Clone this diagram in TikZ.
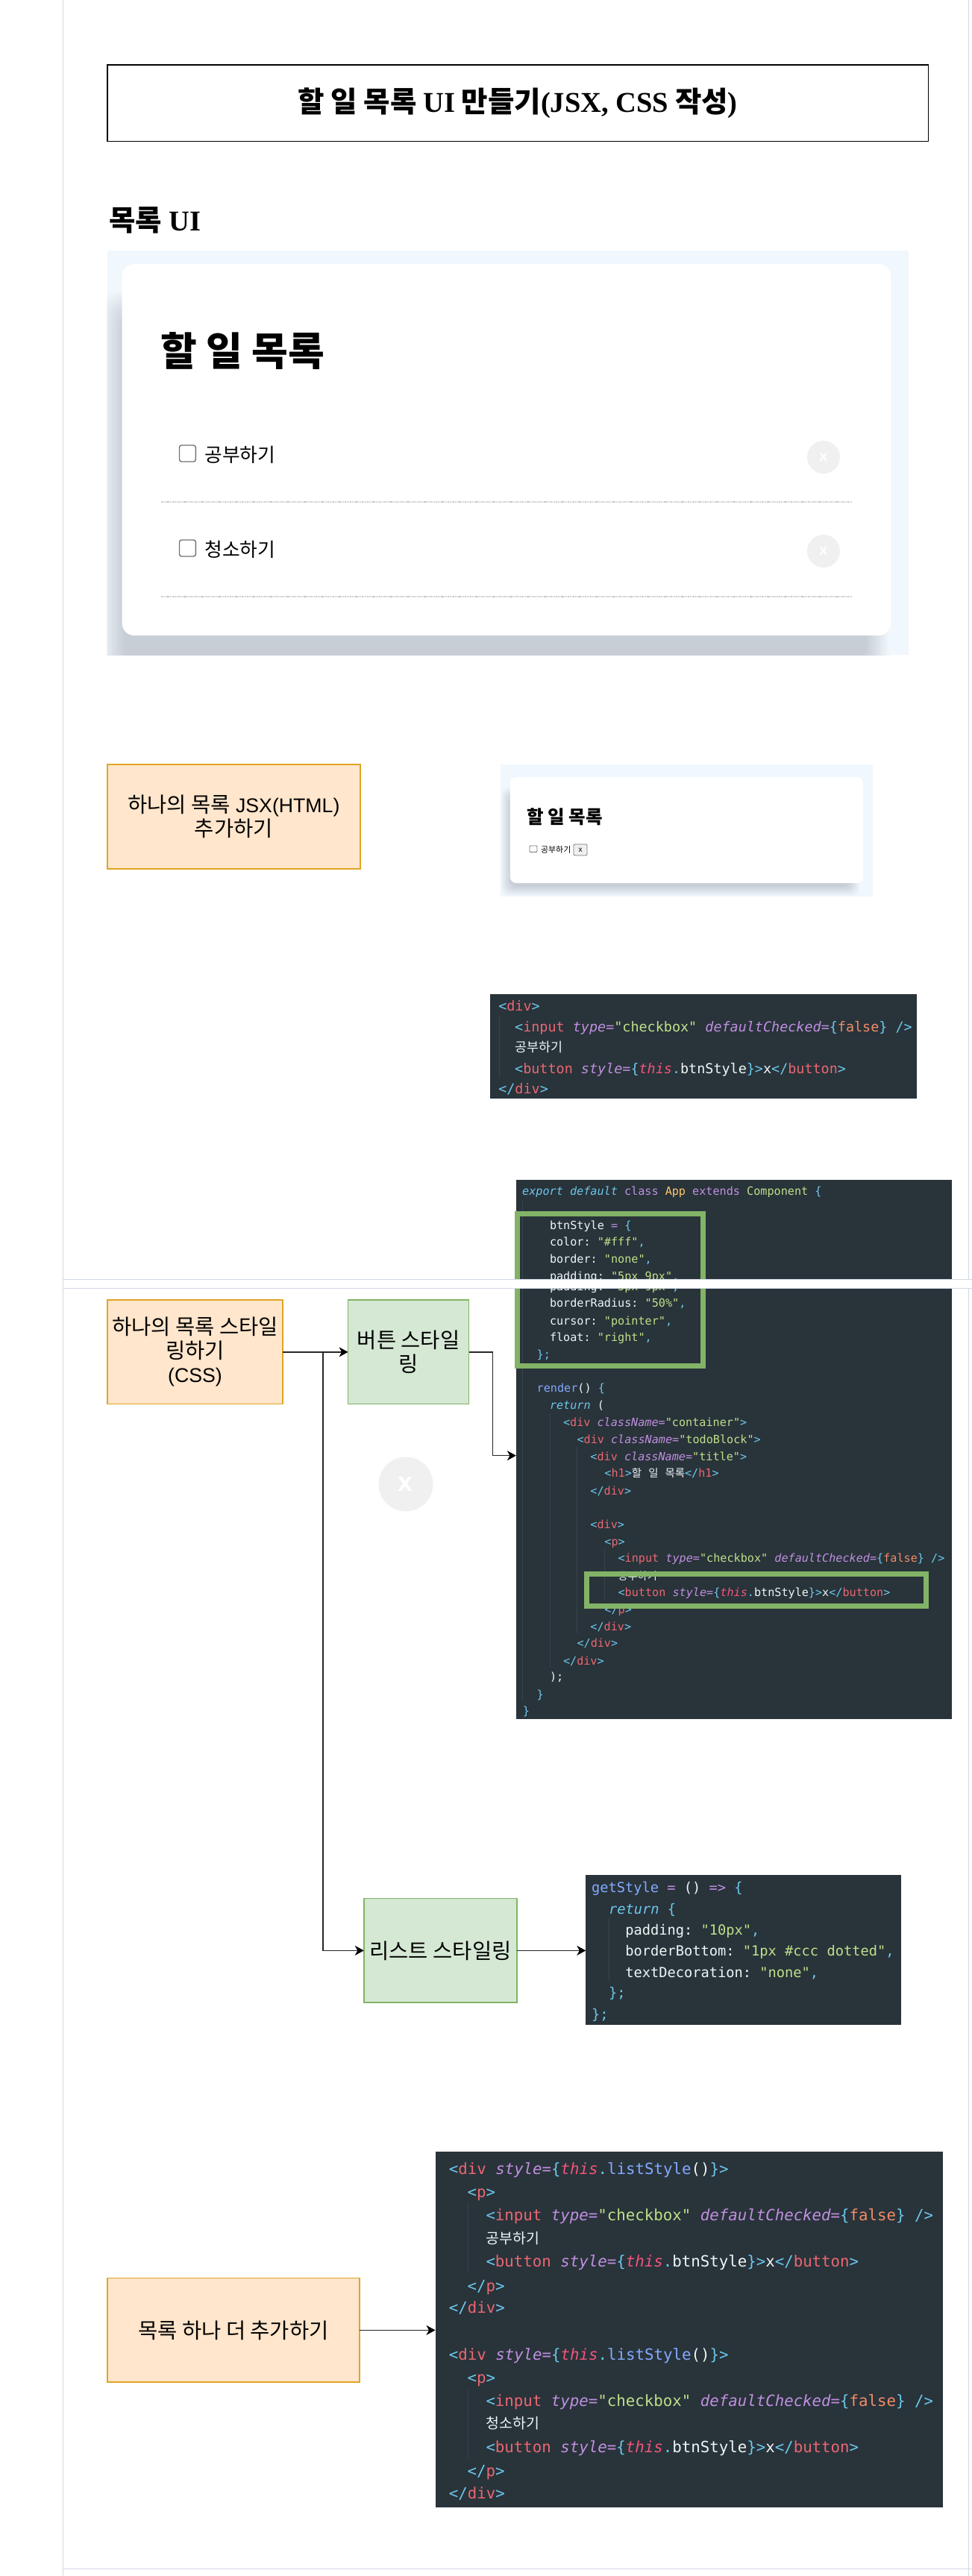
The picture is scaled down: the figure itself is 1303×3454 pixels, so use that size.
\documentclass[tikz,border=0pt]{standalone}
\usepackage{fontspec}
\usetikzlibrary{arrows.meta}
\setmainfont{Liberation Sans}
\setmonofont{DejaVu Sans Mono}
\newfontfamily\serf{Liberation Serif}
\newfontfamily\kr{Noto Sans CJK KR}
\definecolor{cPage}{HTML}{D2D8E4}
\definecolor{cPanel}{HTML}{F0F7FD}
\definecolor{cShad}{HTML}{C8CED5}
\definecolor{cCode}{HTML}{29333A}
\definecolor{cGuide}{HTML}{37444D}
\definecolor{cOrF}{HTML}{FFE6CC}
\definecolor{cOrD}{HTML}{E0A524}
\definecolor{cGrF}{HTML}{D5E8D4}
\definecolor{cGrD}{HTML}{82B366}
\definecolor{cCy}{HTML}{6CC8EC}
\definecolor{cTag}{HTML}{EB6772}
\definecolor{cPur}{HTML}{C08FE0}
\definecolor{cStr}{HTML}{C0E088}
\definecolor{cThis}{HTML}{F2557A}
\definecolor{cFal}{HTML}{F08D68}
\definecolor{cWh}{HTML}{EEF6F6}
\definecolor{cBlu}{HTML}{82AAFF}
\definecolor{cYel}{HTML}{FFCB6B}
\newcommand\Pc[1]{\textcolor{cCy}{#1}}
\newcommand\Tg[1]{\textcolor{cTag}{#1}}
\newcommand\At[1]{\textcolor{cPur}{\itshape #1}}
\newcommand\Pu[1]{\textcolor{cPur}{#1}}
\newcommand\St[1]{\textcolor{cStr}{#1}}
\newcommand\Wh[1]{\textcolor{cWh}{#1}}
\newcommand\Th[1]{\textcolor{cThis}{\itshape #1}}
\newcommand\Fa[1]{\textcolor{cFal}{#1}}
\newcommand\Bl[1]{\textcolor{cBlu}{#1}}
\newcommand\Iy[1]{\textcolor{cCy}{\itshape #1}}
\newcommand\Ye[1]{\textcolor{cYel}{#1}}
\newcommand\opn[1]{\Pc{<}\Tg{#1}\Pc{>}}
\newcommand\cls[1]{\Pc{</}\Tg{#1}\Pc{>}}
\newcommand\inpl{\Pc{<}\Tg{input} \At{type}\Pu{=}\St{"checkbox"} \At{defaultChecked}\Pu{=}\Pc{\{}\Fa{false}\Pc{\}} \Pc{/>}}
\newcommand\btnl{\Pc{<}\Tg{button} \At{style}\Pu{=}\Pc{\{}\Th{this}\Pc{.}\Wh{btnStyle}\Pc{\}>}\Wh{x}\Pc{</}\Tg{button}\Pc{>}}
\newcommand\divl{\Pc{<}\Tg{div} \At{style}\Pu{=}\Pc{\{}\Th{this}\Pc{.}\Bl{listStyle}\Wh{()}\Pc{\}>}}
\newcommand\prop[2]{\Wh{#1:} \St{"#2"}\Pc{,}}
\newcommand\kk[2]{{\kr\fontsize{#1}{#1}\selectfont #2}}
\newcommand\K[1]{{\kr\fontsize{28.5}{32}\selectfont #1}}
\newcounter{cln}
\newcommand\cl[4]{\stepcounter{cln}\node[codeline,#1] (cl\arabic{cln}) at (#2,#3) {#4};}
\newcommand\bx[7]{\pgfmathsetmacro\tmpx{(#2+#4)/2}\pgfmathsetmacro\tmpy{(#3+#5)/2}\pgfmathsetmacro\tmpw{#4-#2}\pgfmathsetmacro\tmph{#5-#3}\node[#6,minimum width=\tmpw pt,minimum height=\tmph pt] (#1) at (\tmpx,\tmpy) {#7};}
\newcommand\softshadow[6]{%
  \foreach \i in {0,...,20}{\pgfmathtruncatemacro\pc{\i*5}\pgfmathsetmacro\dd{(\i-10)*#5/10}
    \fill[cShad!\pc!cPanel,rounded corners=#6pt] ({#1+\dd},{#2+\dd}) rectangle ({#3-\dd},{#4-\dd});}}
\tikzset{
  base/.style={inner sep=0pt,outer sep=0pt},
  codeline/.style={base,anchor=mid west,text=cWh},
  codeA/.style={font=\ttfamily\fontsize{18.43}{20}\selectfont,yshift=-5.5pt},
  codeB/.style={font=\ttfamily\fontsize{15.15}{17}\selectfont,yshift=-4.5pt},
  codeC/.style={font=\ttfamily\fontsize{18.7}{20}\selectfont,yshift=-5.5pt},
  codeD/.style={font=\ttfamily\fontsize{20.75}{22}\selectfont,yshift=-6pt},
  codebox/.style={base,fill=cCode},
  guide/.style={cGuide,line width=1pt},
  frameg/.style={base,draw=cGrD,line width=7pt},
  orangebox/.style={base,fill=cOrF,draw=cOrD,line width=1.5pt,align=center,font=\fontsize{26.67}{32}\selectfont},
  greenbox/.style={base,fill=cGrF,draw=cGrD,line width=1.5pt,align=center,font=\fontsize{26.67}{32}\selectfont},
  arrowc/.style={draw=black!85,line width=1.4pt,-{Stealth[length=12pt,width=13pt,inset=3.5pt,color=black]}},
  pagel/.style={cPage,line width=1pt},
  card/.style={base,fill=white,rounded corners=#1},
  chk/.style={base,draw=black!55,line width=1.4pt,fill=white,rounded corners=3pt},
  delbtn/.style={base,circle,fill=black!6,text=white,font=\bfseries\fontsize{20}{20}\selectfont},
  dotl/.style={black!22,line width=1.3pt,dash pattern=on 1.4pt off 0.9pt},
}
\begin{document}
\begin{tikzpicture}[x=1pt,y=-1pt]
\useasboundingbox (0,0) rectangle (1303,3454);
\fill[white] (0,0) rectangle (1303,3454);
% page guides
\draw[pagel] (84.6,0) -- (84.6,3454);
\draw[pagel] (1298.5,0) -- (1298.5,3454);
\draw[pagel] (84.6,3444) -- (1303,3444);
% title
\bx{title}{143.8}{87}{1244.2}{189.5}{base,draw=black,line width=1.4pt,font=\serf\bfseries\fontsize{38.5}{44}\selectfont}{\kr\fontsize{38.5}{44}\selectfont 할 일 목록 {\serf UI} 만들기{\serf (JSX, CSS} 작성{\serf )}}
\node[base,anchor=mid west,font=\serf\bfseries\fontsize{38.5}{44}\selectfont] (heading) at (146,307) {{\kr 목록} UI};
% big panel
\bx{panelA}{143.8}{336}{1217.8}{878}{base,fill=cPanel}{}
\begin{scope}
\clip (143.8,336) rectangle (1217.8,878);
\softshadow{149.7}{405}{1177}{905}{16}{24}
\end{scope}
\bx{cardA}{163.7}{354}{1194.3}{852}{card=16pt}{}
\node[base,anchor=mid west,font=\kr\bfseries\fontsize{53}{56}\selectfont] (cardAtitle) at (215.6,488) {할 일 목록};
\bx{chk1}{240.5}{597}{262.4}{619}{chk}{}
\node[base,anchor=mid west,font=\kr\fontsize{25.8}{28}\selectfont] (item1) at (274.4,616.5) {공부하기};
\node[delbtn,minimum size=44pt] (del1) at (1104,613) {x};
\coordinate (d1a) at (216.2,673); \coordinate (d1b) at (1143,673);
\draw[dotl] (d1a) -- (d1b);
\bx{chk2}{240.5}{724}{262.4}{746}{chk}{}
\node[base,anchor=mid west,font=\kr\fontsize{25.8}{28}\selectfont] (item2) at (274.4,743.5) {청소하기};
\node[delbtn,minimum size=44pt] (del2) at (1104,739) {x};
\coordinate (d2a) at (216.2,800); \coordinate (d2b) at (1143,800);
\draw[dotl] (d2a) -- (d2b);
% orange 1
\bx{box1}{143.8}{1025}{482.8}{1165}{orangebox}{\K{하나의 목록} JSX(HTML)\\\K{추가하기}}
% small panel
\bx{panelB}{671.3}{1025}{1170}{1202}{base,fill=cPanel}{}
\begin{scope}
\clip (671.3,1025) rectangle (1170,1202);
\softshadow{678}{1062}{1146}{1195}{7}{10}
\end{scope}
\bx{cardB}{683.9}{1042}{1157}{1184}{card=8pt}{}
\node[base,anchor=mid west,font=\kr\bfseries\fontsize{24.5}{28}\selectfont] (cardBtitle) at (706.2,1102) {할 일 목록};
\bx{chk3}{710}{1134}{720}{1142.5}{chk,line width=0.8pt,rounded corners=1pt}{}
\node[base,anchor=mid west,font=\kr\fontsize{11}{12}\selectfont] (item3) at (725,1141) {공부하기};
\bx{btn3}{769}{1132}{787}{1147}{base,draw=black!55,fill=black!6,line width=0.8pt,rounded corners=1.5pt,font=\fontsize{10}{10}\selectfont}{x}
% code 1
\bx{code1}{657}{1332.6}{1229}{1473}{codebox}{}
\draw[guide] (669.3,1362) -- (669.3,1444);
\cl{codeA}{668.3}{1347}{\opn{div}}
\cl{codeA}{690.2}{1375}{\inpl}
\cl{codeA}{690.2}{1402.5}{\kk{17.4}{공부하기}}
\cl{codeA}{690.2}{1431}{\btnl}
\cl{codeA}{668.3}{1458}{\cls{div}}
% code 2
\bx{code2}{691.9}{1582}{1276.3}{2305}{codebox}{}
\draw[guide] (700.8,1610) -- (700.8,2280);
\draw[guide] (737,1895) -- (737,2236);
\draw[guide] (773.5,1940) -- (773.5,2190);
\draw[guide] (810.4,2076) -- (810.4,2146);
\cl{codeB}{700.2}{1595.7}{\Iy{export default} \Pu{class} \Ye{App} \Pu{extends} \St{Component} \Pc{\{}}
\cl{codeB}{737}{1641}{\Wh{btnStyle} \Pu{=} \Pc{\{}}
\cl{codeB}{737}{1663.3}{\prop{color}{\#fff}}
\cl{codeB}{737}{1686.7}{\prop{border}{none}}
\cl{codeB}{737}{1709.3}{\prop{padding}{5px 9px}}
\cl{codeB}{737}{1723}{\prop{padding}{5px 9px}}
\cl{codeB}{737}{1745.7}{\prop{borderRadius}{50\%}}
\cl{codeB}{737}{1769}{\prop{cursor}{pointer}}
\cl{codeB}{737}{1791}{\prop{float}{right}}
\cl{codeB}{719.7}{1814.3}{\Pc{\};}}
\cl{codeB}{719.7}{1859.7}{\Bl{render}\Wh{()} \Pc{\{}}
\cl{codeB}{737}{1882.7}{\Iy{return} \Wh{(}}
\cl{codeB}{755}{1905.3}{\Pc{<}\Tg{div} \At{className}\Pu{=}\St{"container"}\Pc{>}}
\cl{codeB}{773.5}{1928.3}{\Pc{<}\Tg{div} \At{className}\Pu{=}\St{"todoBlock"}\Pc{>}}
\cl{codeB}{791.4}{1951.3}{\Pc{<}\Tg{div} \At{className}\Pu{=}\St{"title"}\Pc{>}}
\cl{codeB}{810.4}{1973.7}{\opn{h1}\kk{14.4}{할} \kk{14.4}{일} \kk{14.4}{목록}\cls{h1}}
\cl{codeB}{791.4}{1997}{\cls{div}}
\cl{codeB}{791.4}{2042.3}{\opn{div}}
\cl{codeB}{810.4}{2065.7}{\opn{p}}
\cl{codeB}{828.6}{2087.7}{\inpl}
\cl{codeB}{828.6}{2111.7}{\kk{14.2}{공부하기}}
\cl{codeB}{828.6}{2133}{\btnl}
\cl{codeB}{810.4}{2156.7}{\cls{p}}
\cl{codeB}{791.4}{2179.3}{\cls{div}}
\cl{codeB}{773.5}{2201.7}{\cls{div}}
\cl{codeB}{755}{2225}{\cls{div}}
\cl{codeB}{737}{2246.7}{\Wh{);}}
\cl{codeB}{719.7}{2270}{\Pc{\}}}
\cl{codeB}{700.8}{2292.7}{\Pc{\}}}
\bx{frameA}{693.2}{1627}{942}{1831.3}{frameg}{}
\bx{frameB}{786.5}{2110}{1241.2}{2153.7}{frameg}{}
% page break band
\fill[white] (84.6,1715) rectangle (1303,1727.5);
\draw[pagel] (84.6,1715.3) -- (1303,1715.3);
\draw[pagel] (84.6,1727.5) -- (1303,1727.5);
% boxes row 2
\bx{box2}{144}{1743}{379}{1882.7}{orangebox}{\K{하나의 목록 스타일}\\\K{링하기}\\(CSS)}
\bx{btnbox}{466.6}{1743}{628.7}{1882.7}{greenbox}{\K{버튼 스타일}\\\K{링}}
\node[delbtn,minimum size=73pt,font=\bfseries\fontsize{36}{36}\selectfont] (delbig) at (544,1990) {x};
\bx{listbox}{487.8}{2545.7}{693.2}{2685}{greenbox}{\K{리스트 스타일링}}
% code 3
\bx{code3}{785.3}{2514.3}{1207.8}{2715}{codebox}{}
\draw[guide] (816,2572) -- (816,2656);
\cl{codeC}{793}{2529.3}{\Bl{getStyle} \Pu{=} \Wh{()} \Pu{=>} \Pc{\{}}
\cl{codeC}{816}{2558.3}{\Iy{return} \Pc{\{}}
\cl{codeC}{838.3}{2586}{\prop{padding}{10px}}
\cl{codeC}{838.3}{2614.3}{\prop{borderBottom}{1px \#ccc dotted}}
\cl{codeC}{838.3}{2643.3}{\prop{textDecoration}{none}}
\cl{codeC}{816}{2670.7}{\Pc{\};}}
\cl{codeC}{793}{2699.3}{\Pc{\};}}
% box 3 and code 4
\bx{box3}{144}{3054.7}{482}{3194}{orangebox}{\K{목록 하나 더 추가하기}}
\bx{code4}{583.5}{2885}{1264.3}{3362}{codebox}{}
\draw[guide] (627.7,2955) -- (627.7,3047);
\draw[guide] (627.7,3204) -- (627.7,3297);
\cl{codeD}{601.8}{2907}{\divl}
\cl{codeD}{626.7}{2937.7}{\opn{p}}
\cl{codeD}{651.5}{2968.7}{\inpl}
\cl{codeD}{651.5}{3000.2}{\kk{19.4}{공부하기}}
\cl{codeD}{651.5}{3030.8}{\btnl}
\cl{codeD}{626.7}{3063.4}{\cls{p}}
\cl{codeD}{601.8}{3093}{\cls{div}}
\cl{codeD}{601.8}{3155.8}{\divl}
\cl{codeD}{626.7}{3186.9}{\opn{p}}
\cl{codeD}{651.5}{3218}{\inpl}
\cl{codeD}{651.5}{3247.5}{\kk{19.4}{청소하기}}
\cl{codeD}{651.5}{3280}{\btnl}
\cl{codeD}{626.7}{3312}{\cls{p}}
\cl{codeD}{601.8}{3342.2}{\cls{div}}
% connectors
\coordinate (jn) at (433,1812.85);
\coordinate (inA) at (691.9,1951.7);
\draw[arrowc] (box2.east) -- (btnbox.west);
\draw[arrowc] (jn) |- (listbox.west);
\draw[arrowc] (btnbox.east) -- ++(31.8,0) |- (inA);
\draw[arrowc] (listbox.east) -- (listbox.east -| code3.west);
\draw[arrowc] (box3.east) -- (box3.east -| code4.west);
\end{tikzpicture}
\end{document}
